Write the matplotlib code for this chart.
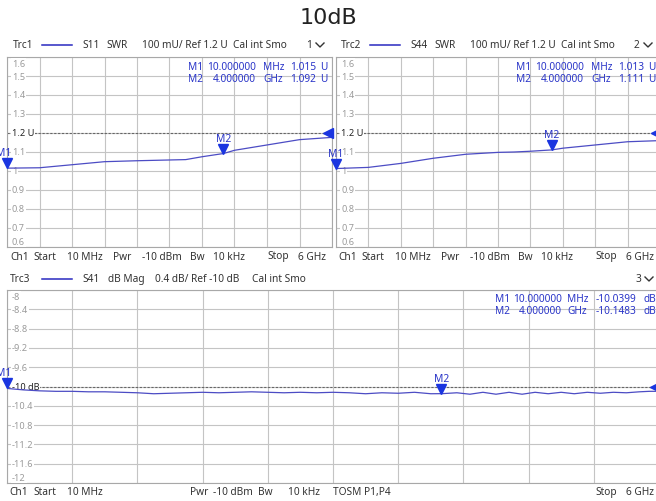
import numpy as np
import matplotlib
matplotlib.use("Agg")
import matplotlib.pyplot as plt
from matplotlib.lines import Line2D
import matplotlib.transforms as mtransforms

# ---- data ----
freq_mhz = [10, 609, 1208, 1807, 2406, 3005, 3305, 3604, 4000, 4203, 4802, 5401, 6000]
s11_swr = [1.015, 1.017, 1.033, 1.049, 1.054, 1.058, 1.060, 1.075, 1.092, 1.109, 1.137, 1.165, 1.177]
s44_swr = [1.013, 1.019, 1.040, 1.067, 1.088, 1.098, 1.100, 1.104, 1.111, 1.120, 1.137, 1.154, 1.160]

freq41_mhz = [10 + d * 599.0 for d in
              [0, .25, .5, .75, 1, 1.25, 1.5, 1.75, 2, 2.25, 2.5, 2.75, 3, 3.25, 3.5, 3.75,
               4, 4.25, 4.5, 4.75, 5, 5.25, 5.5, 5.75, 6, 6.25, 6.5, 6.68, 6.9, 7.1, 7.3,
               7.5, 7.7, 7.9, 8.1, 8.3, 8.5, 8.7, 8.9, 9.1, 9.3, 9.5, 9.7, 9.85, 10]]
s41_db = [-10.04, -10.07, -10.09, -10.10, -10.10, -10.11, -10.11, -10.12, -10.13, -10.15,
          -10.14, -10.13, -10.12, -10.13, -10.12, -10.11, -10.12, -10.13, -10.12, -10.13,
          -10.12, -10.13, -10.15, -10.13, -10.14, -10.12, -10.15, -10.148, -10.13, -10.16,
          -10.12, -10.16, -10.12, -10.16, -10.12, -10.15, -10.12, -10.15, -10.12, -10.14,
          -10.12, -10.13, -10.11, -10.10, -10.10]

swr_ticks = [0.6, 0.7, 0.8, 0.9, 1.0, 1.1, 1.2, 1.3, 1.4, 1.5, 1.6]
swr_labels = ["0.6", "0.7", "0.8", "0.9", "1", "1.1", "1.2 U", "1.3", "1.4", "1.5", "1.6"]
db_ticks = [-12, -11.6, -11.2, -10.8, -10.4, -10, -9.6, -9.2, -8.8, -8.4, -8]
db_labels = ["-12", "-11.6", "-11.2", "-10.8", "-10.4", "-10 dB", "-9.6", "-9.2", "-8.8", "-8.4", "-8"]

W, H = 656, 502
plt.rcParams['font.family'] = ['Noto Sans', 'DejaVu Sans']
fig = plt.figure(figsize=(W / 100, H / 100), dpi=100)

TXT = '#333333'
TICK = '#9a9a9a'
GRID = '#c4c4c4'
TRACE = '#4c4cc4'
MARK = '#1a35e0'
MTXT = '#2a35c8'
FS = 7.3


def ftxt(x, y, s, ha='left', color=TXT, size=FS, **kw):
    fig.text(x / W, 1 - y / H, s, ha=ha, va='center', color=color, fontsize=size, **kw)


def fline(xs, ys, color, lw=1.0):
    fig.add_artist(Line2D([x / W for x in xs], [1 - y / H for y in ys],
                          color=color, lw=lw, transform=fig.transFigure))


def make_axes(x0, y0, x1, y1, ylim, ticks, labels, ref, ref_label):
    ax = fig.add_axes([x0 / W, 1 - y1 / H, (x1 - x0) / W, (y1 - y0) / H])
    ax.set_xlim(10, 6000)
    ax.set_ylim(*ylim)
    ax.set_xticks(np.linspace(10, 6000, 11))
    ax.set_yticks(ticks)
    ax.tick_params(length=0, labelleft=False, labelbottom=False)
    ax.grid(True, color=GRID, lw=0.8)
    for sp in ax.spines.values():
        sp.set_color('#a8a8a8')
        sp.set_linewidth(0.8)
    ax.axhline(ref, color='#666666', lw=0.8, ls=(0, (2, 1.5)), zorder=2)
    for t, lab in zip(ticks, labels):
        va = 'center'
        if t == ticks[0]:
            va = 'bottom'
        elif t == ticks[-1]:
            va = 'top'
        tr = mtransforms.offset_copy(ax.get_yaxis_transform(), fig=fig, x=5,
                                     y={'bottom': 1, 'top': -2, 'center': 0}[va], units='dots')
        ax.text(0, t, lab, transform=tr, ha='left', va=va, fontsize=6.6,
                color='#222222' if lab == ref_label else TICK, zorder=3,
                bbox=dict(facecolor='white', edgecolor='none', pad=0.6))
    return ax


def markers(ax, f, v, m2f, m2v, ref, left_lab_dx=0):
    ax.plot(f, v, color=TRACE, lw=0.9, zorder=4)
    ax.plot([10], [v[0]], marker='v', color=MARK, ms=7, clip_on=False, zorder=5,
            transform=mtransforms.offset_copy(ax.transData, fig=fig, x=0, y=5, units='dots'))
    ax.plot([m2f], [m2v], marker='v', color=MARK, ms=7, clip_on=False, zorder=5,
            transform=mtransforms.offset_copy(ax.transData, fig=fig, x=0, y=5, units='dots'))
    ax.plot([6000], [ref], marker='<', color=MARK, ms=7, clip_on=False, zorder=5,
            transform=mtransforms.offset_copy(ax.transData, fig=fig, x=-4, y=0, units='dots'))
    ax.text(10, v[0], "M1", color=MTXT, fontsize=7.4, ha='center', va='bottom', clip_on=False,
            transform=mtransforms.offset_copy(ax.transData, fig=fig, x=left_lab_dx, y=10, units='dots'))
    ax.text(m2f, m2v, "M2", color=MTXT, fontsize=7.4, ha='center', va='bottom', clip_on=False,
            transform=mtransforms.offset_copy(ax.transData, fig=fig, x=0, y=10, units='dots'))


# ---- title ----
fig.text(0.5, 1 - 18 / H, "10dB", ha='center', va='center', fontsize=16,
         color='#222222', family='DejaVu Sans')

# ---- top panels ----
for k, (x0, x1, dx, trc, sp, vals, r1, r2, m2v) in enumerate([
        (7, 332, 0, "Trc1", "S11", s11_swr, "1.015", "1.092", 1.092),
        (336, 660, 328, "Trc2", "S44", s44_swr, "1.013", "1.111", 1.111)]):
    ax = make_axes(x0, 58, x1, 248, (0.6, 1.6), swr_ticks, swr_labels, 1.2, "1.2 U")
    markers(ax, freq_mhz, vals, 4000, m2v, 1.2, left_lab_dx=-3 if k == 0 else 0)
    # header
    ftxt(13 + dx, 46, trc)
    fline([42 + dx, 72 + dx], [46, 46], '#2a2ac0', lw=1.1)
    ftxt(82 + dx, 46, sp)
    ftxt(106 + dx, 46, "SWR")
    ftxt(142 + dx, 46, "100 mU/ Ref 1.2 U")
    ftxt(233 + dx, 46, "Cal int Smo")
    ftxt(306 + dx, 46, str(k + 1))
    fline([316 + dx, 320 + dx, 324 + dx], [44, 48, 44], '#333333', lw=1.0)
    # marker readout
    for y, m, fv, un, rv in [(67, "M1", "10.000000", "MHz", r1), (79, "M2", "4.000000", "GHz", r2)]:
        ftxt(188 + dx, y, m, color=MTXT)
        ftxt(256 + dx, y, fv, ha='right', color=MTXT)
        ftxt(263 + dx, y, un, color=MTXT)
        ftxt(290 + dx, y, rv, color=MTXT)
        ftxt(320 + dx, y, "U", color=MTXT)
    # footer
    for x, s in [(10, "Ch1"), (33, "Start"), (67, "10 MHz"), (113, "Pwr"), (142, "-10 dBm"),
                 (190, "Bw"), (213, "10 kHz"), (267, "Stop"), (298, "6 GHz")]:
        ftxt(x + dx, 257, s)

# ---- bottom panel ----
ax3 = make_axes(7, 291, 659, 484, (-12, -8), db_ticks, db_labels, -10, "-10 dB")
markers(ax3, freq41_mhz, s41_db, 4000, -10.148, -10, left_lab_dx=-3)
ftxt(10, 280, "Trc3")
fline([42, 72], [280, 280], '#2a2ac0', lw=1.1)
ftxt(82, 280, "S41")
ftxt(108, 280, "dB Mag")
ftxt(155, 280, "0.4 dB/ Ref -10 dB")
ftxt(252, 280, "Cal int Smo")
ftxt(636, 280, "3")
fline([645, 649, 653], [278, 282, 278], '#333333', lw=1.0)
for y, m, fv, un, rv in [(299, "M1", "10.000000", "MHz", "-10.0399"),
                         (312, "M2", "4.000000", "GHz", "-10.1483")]:
    ftxt(495, y, m, color=MTXT)
    ftxt(562, y, fv, ha='right', color=MTXT)
    ftxt(567, y, un, color=MTXT)
    ftxt(596, y, rv, color=MTXT)
    ftxt(643, y, "dB", color=MTXT)
for x, s in [(9, "Ch1"), (33, "Start"), (67, "10 MHz"), (190, "Pwr"), (213, "-10 dBm"),
             (258, "Bw"), (288, "10 kHz"), (333, "TOSM P1,P4"), (595, "Stop"), (626, "6 GHz")]:
    ftxt(x, 493, s)

fig.savefig("out.png", dpi=100)
